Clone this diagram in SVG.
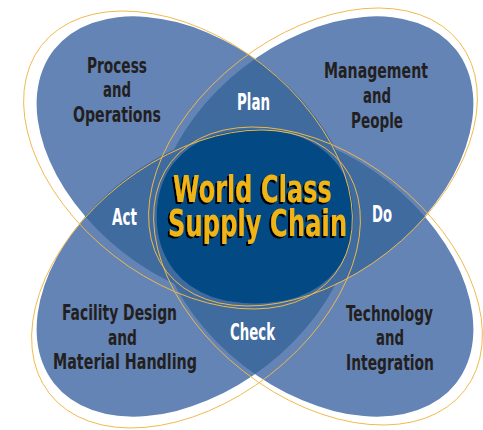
<svg xmlns="http://www.w3.org/2000/svg" xmlns:xlink="http://www.w3.org/1999/xlink" width="483" height="430" viewBox="0 0 483 430">
<style>
.light{fill:#6384b4}
.mid{fill:#3f6b9f}
.dark{fill:#034a85}
.outline{fill:none;stroke:#efb94a;stroke-width:0.9}
.lbl{font-family:"Liberation Sans Narrow","DejaVu Sans Condensed","Liberation Sans",sans-serif;font-weight:bold;font-size:22px;fill:#231f20}
.zone{font-family:"Liberation Sans Narrow","DejaVu Sans Condensed","Liberation Sans",sans-serif;font-weight:bold;font-size:23px;fill:#ffffff}
.ctr{font-family:"Liberation Sans Narrow","DejaVu Sans Condensed","Liberation Sans",sans-serif;font-weight:bold;font-size:38px;fill:#f0b414}
</style>
<defs>
<ellipse id="eTL" cx="195" cy="160" rx="179" ry="117" transform="rotate(38 195 160)"/>
<ellipse id="eTR" cx="315" cy="160" rx="179" ry="117" transform="rotate(-38 315 160)"/>
<ellipse id="eBL" cx="195" cy="273" rx="179" ry="117" transform="rotate(-38 195 273)"/>
<ellipse id="eBR" cx="315" cy="273" rx="179" ry="117" transform="rotate(38 315 273)"/>
<clipPath id="cTL"><use xlink:href="#eTL"/></clipPath>
<clipPath id="cTR"><use xlink:href="#eTR"/></clipPath>
<clipPath id="cBL"><use xlink:href="#eBL"/></clipPath>
<clipPath id="cBR"><use xlink:href="#eBR"/></clipPath>
<filter id="shadow" x="-10%" y="-20%" width="120%" height="140%">
<feOffset in="SourceAlpha" dx="-2.1" dy="1.5" result="off"/>
<feFlood flood-color="#000000"/>
<feComposite in2="off" operator="in" result="sh"/>
<feMerge><feMergeNode in="sh"/><feMergeNode in="SourceGraphic"/></feMerge>
</filter>
</defs>

<g id="petals">
<g id="petal-process"><use xlink:href="#eTL" class="light"/></g>
<g id="petal-management"><use xlink:href="#eTR" class="light"/></g>
<g id="petal-facility"><use xlink:href="#eBL" class="light"/></g>
<g id="petal-technology"><use xlink:href="#eBR" class="light"/></g>
</g>

<g id="overlaps">
<use xlink:href="#eTR" class="mid" clip-path="url(#cTL)"/>
<use xlink:href="#eBR" class="mid" clip-path="url(#cTR)"/>
<use xlink:href="#eBL" class="mid" clip-path="url(#cBR)"/>
<use xlink:href="#eTL" class="mid" clip-path="url(#cBL)"/>
<use xlink:href="#eBR" class="mid" clip-path="url(#cTL)"/>
<use xlink:href="#eBL" class="mid" clip-path="url(#cTR)"/>
<g id="core" clip-path="url(#cTL)"><g clip-path="url(#cTR)"><g clip-path="url(#cBL)"><use xlink:href="#eBR" class="dark"/></g></g></g>
</g>

<g id="outlines">
<ellipse class="outline" cx="188" cy="160" rx="186" ry="121" transform="rotate(38 188 160)"/>
<ellipse class="outline" cx="313" cy="157" rx="186" ry="121" transform="rotate(-38 313 157)"/>
<ellipse class="outline" cx="196" cy="279" rx="186" ry="121" transform="rotate(-38 196 279)"/>
<ellipse class="outline" cx="318" cy="276" rx="186" ry="121" transform="rotate(38 318 276)"/>
</g>

<g id="node-process" class="lbl">
<text x="87" y="73" textLength="60" lengthAdjust="spacingAndGlyphs">Process</text>
<text x="103" y="97" textLength="28" lengthAdjust="spacingAndGlyphs">and</text>
<text x="73" y="122" textLength="88" lengthAdjust="spacingAndGlyphs">Operations</text>
</g>
<g id="node-management" class="lbl">
<text x="324" y="78" textLength="104" lengthAdjust="spacingAndGlyphs">Management</text>
<text x="363" y="103" textLength="28" lengthAdjust="spacingAndGlyphs">and</text>
<text x="351" y="128" textLength="52" lengthAdjust="spacingAndGlyphs">People</text>
</g>
<g id="node-facility" class="lbl">
<text x="62" y="320" textLength="115" lengthAdjust="spacingAndGlyphs">Facility Design</text>
<text x="108" y="345" textLength="29" lengthAdjust="spacingAndGlyphs">and</text>
<text x="53" y="369" textLength="144" lengthAdjust="spacingAndGlyphs">Material Handling</text>
</g>
<g id="node-technology" class="lbl">
<text x="346" y="321" textLength="87" lengthAdjust="spacingAndGlyphs">Technology</text>
<text x="376" y="345" textLength="28" lengthAdjust="spacingAndGlyphs">and</text>
<text x="346" y="370" textLength="88" lengthAdjust="spacingAndGlyphs">Integration</text>
</g>

<g id="zone-plan" class="zone"><text x="237" y="110" textLength="33" lengthAdjust="spacingAndGlyphs">Plan</text></g>
<g id="zone-act" class="zone"><text x="112" y="225" textLength="25" lengthAdjust="spacingAndGlyphs">Act</text></g>
<g id="zone-do" class="zone"><text x="372" y="222" textLength="20" lengthAdjust="spacingAndGlyphs">Do</text></g>
<g id="zone-check" class="zone"><text x="230" y="340" textLength="45" lengthAdjust="spacingAndGlyphs">Check</text></g>

<g id="center" class="ctr" filter="url(#shadow)">
<text transform="translate(173 202) scale(0.7 1)"><tspan x="0" y="0" textLength="227" lengthAdjust="spacingAndGlyphs">World Class</tspan><tspan x="-7.14" y="34" textLength="256" lengthAdjust="spacingAndGlyphs">Supply Chain</tspan></text>
</g>
</svg>
